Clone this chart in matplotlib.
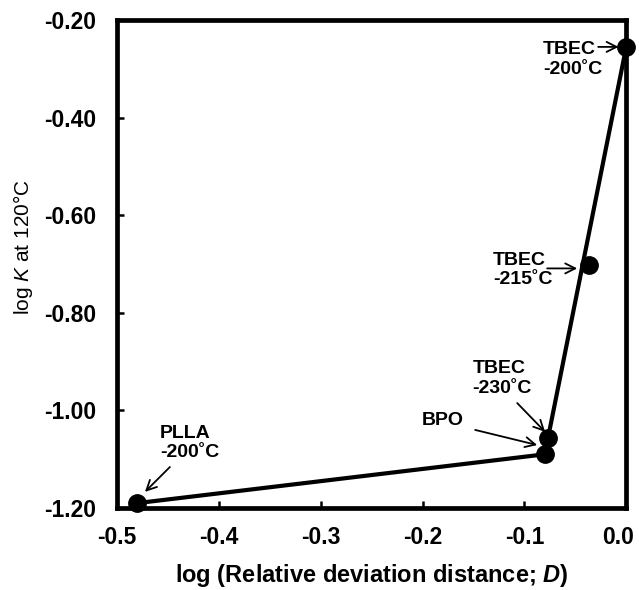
import matplotlib
matplotlib.use("Agg")
import matplotlib.pyplot as plt
from matplotlib.transforms import ScaledTranslation

plt.rcParams['font.family'] = ['Liberation Sans', 'DejaVu Sans']
plt.rcParams['mathtext.fontset'] = 'custom'
plt.rcParams['mathtext.rm'] = 'Liberation Sans'
plt.rcParams['mathtext.it'] = 'Liberation Sans:italic'
plt.rcParams['mathtext.bf'] = 'Liberation Sans:bold'
plt.rcParams['mathtext.bfit'] = 'Liberation Sans:bold:italic'

# Data
labels = ["PLLA\n-200˚C", "BPO", "TBEC\n-230˚C", "TBEC\n-215˚C", "TBEC\n-200˚C"]
x_vals = [-0.480, -0.080, -0.077, -0.037, 0.000]
y_vals = [-1.190, -1.090, -1.056, -0.702, -0.255]

# trend lines (polyline through PLLA, BPO, TBEC-200)
line_x = [-0.480, -0.080, 0.000]
line_y = [-1.190, -1.090, -0.255]

x_ticks = [-0.5, -0.4, -0.3, -0.2, -0.1, 0.0]
y_ticks = [-1.20, -1.00, -0.80, -0.60, -0.40, -0.20]

# annotation placement (text anchor, arrow tail, arrow head), data coords
text_pos = [(-0.4578, -1.067), (-0.2004, -1.020), (-0.151, -0.934), (-0.1307, -0.712), (-0.0815, -0.281)]
arrow_tail = [(-0.448, -1.116), (-0.1483, -1.040), (-0.107, -0.985), (-0.0776, -0.709), (-0.0275, -0.255)]
arrow_head = [(-0.4725, -1.167), (-0.0874, -1.071), (-0.0796, -1.044), (-0.0481, -0.709), (-0.0075, -0.255)]

fig = plt.figure(figsize=(6.39, 5.90), dpi=100)
ax = fig.add_axes([0.183, 0.139, 0.797, 0.827])

ax.plot(line_x, line_y, color='black', lw=3.0, zorder=2, clip_on=False)
ax.plot(x_vals, y_vals, 'o', color='black', ms=12.5, zorder=3, clip_on=False)

for lab, tp, tail, head in zip(labels, text_pos, arrow_tail, arrow_head):
    ax.text(tp[0], tp[1], lab, ha='left', va='center', fontsize=14,
            fontweight='bold', linespacing=1.2, zorder=4)
    ax.annotate('', xy=head, xytext=tail,
                arrowprops=dict(arrowstyle='->', color='black', lw=1.3,
                                mutation_scale=18, shrinkA=0, shrinkB=0))

ax.set_xlim(-0.5, 0.0)
ax.set_ylim(-1.2, -0.2)
ax.set_xticks(x_ticks)
ax.set_yticks(y_ticks)
ax.set_xticklabels([f"{v:.1f}" for v in x_ticks])
ax.set_yticklabels([f"{v:.2f}" for v in y_ticks])

for s in ax.spines.values():
    s.set_linewidth(3.4)

ax.tick_params(axis='both', direction='in', length=5, width=1.8, labelsize=16.5)
ax.tick_params(axis='x', pad=13)
ax.tick_params(axis='y', pad=15)
for t in ax.get_xticklabels() + ax.get_yticklabels():
    t.set_fontweight('bold')
# keep the last x tick label inside the figure
last = ax.get_xticklabels()[-1]
last.set_transform(last.get_transform() + ScaledTranslation(-8/100, 0, fig.dpi_scale_trans))

ax.set_xlabel("log (Relative deviation distance; $\\mathbfit{D}$)", fontsize=17, fontweight='bold', labelpad=9)
ax.set_ylabel("log $\\mathit{K}$ at 120°C", fontsize=15, fontweight='normal')
ax.yaxis.set_label_coords(-0.160, 0.535)

fig.savefig("out.png", dpi=100)
